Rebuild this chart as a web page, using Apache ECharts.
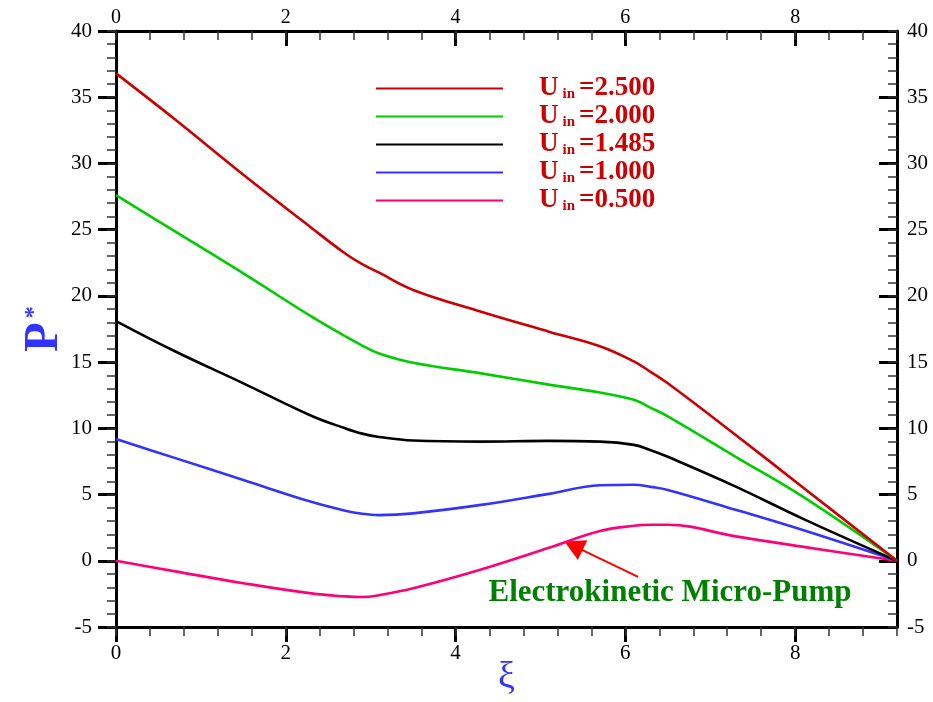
<!DOCTYPE html>
<html>
<head>
<meta charset="utf-8">
<script src="https://cdn.jsdelivr.net/npm/echarts@6/dist/echarts.min.js"></script>
<style>html,body{margin:0;padding:0;background:#fff;}#c{width:933px;height:702px;}</style>
</head>
<body>
<div id="c"></div>
<script>
// ---- data ----
var xi = [0, 0.7, 1.5, 2.3, 2.7, 2.9, 3.1, 3.5, 4.3, 5.1, 5.7, 6.1, 6.3, 6.5, 7.3, 8.1, 9.2];
var u2500 = [36.8, 33.3, 29.15, 25.15, 23.2, 22.4, 21.75, 20.45, 18.8, 17.3, 16.2, 15.05, 14.25, 13.4, 9.5, 5.5, 0];
var u2000 = [27.6, 24.85, 21.7, 18.45, 16.95, 16.25, 15.65, 14.95, 14.15, 13.3, 12.7, 12.15, 11.55, 10.9, 7.85, 4.8, 0];
var u1485 = [18.1, 15.8, 13.4, 10.95, 10.0, 9.6, 9.35, 9.08, 9.0, 9.05, 9.0, 8.75, 8.35, 7.85, 5.6, 3.15, 0];
var u1000 = [9.2, 7.75, 6.1, 4.45, 3.78, 3.55, 3.45, 3.58, 4.22, 5.05, 5.7, 5.74, 5.58, 5.35, 3.85, 2.3, 0];
var u0500 = [0, -0.8, -1.69, -2.46, -2.69, -2.74, -2.6, -2.08, -0.66, 0.98, 2.25, 2.64, 2.72, 2.72, 1.84, 1.05, 0];
var seriesNames = ['2.500', '2.000', '1.485', '1.000', '0.500'];
var xMajorTicks = [0, 2, 4, 6, 8];
var annotationText = 'Electrokinetic Micro-Pump';
var arrowFrom = [6.15, -1.21];
var arrowTo = [5.39, 1.13];
// ---------------------------------------

var colors = ['#cc0000', '#00cc00', '#000000', '#3333ff', '#ff0077'];
var allY = [u2500, u2000, u1485, u1000, u0500];
var FONT = '"Liberation Serif", "Times New Roman", serif';

function pairs(ys) { return xi.map(function (x, i) { return [x, ys[i]]; }); }

var X_MIN = 0, X_MAX = 9.2, Y_MIN = -5, Y_MAX = 40;

function xAxisMajor(pos, inside, labelMargin, fontSize, withName) {
  var a = {
    type: 'value', position: pos, min: X_MIN, max: X_MAX,
    axisLine: { show: true, onZero: false, lineStyle: { color: '#000', width: 3 } },
    axisTick: { show: true, inside: inside, length: 15, customValues: xMajorTicks, lineStyle: { color: '#000', width: 3 } },
    axisLabel: { show: true, customValues: xMajorTicks, margin: labelMargin, color: '#000', fontFamily: FONT, fontSize: fontSize },
    splitLine: { show: false }
  };
  if (withName) {
    a.name = 'ξ';
    a.nameLocation = 'middle';
    a.nameGap = 32;
    a.nameMoveOverlap = false;
    a.nameTextStyle = { color: '#3333ff', fontFamily: FONT, fontSize: 38 };
  }
  return a;
}
function xAxisMinor(pos, inside) {
  return {
    type: 'value', position: pos, min: X_MIN, max: X_MAX, interval: 0.4,
    axisLine: { show: false, onZero: false },
    axisTick: { show: true, inside: inside, length: 9, lineStyle: { color: '#333', width: 1.5 } },
    axisLabel: { show: false }, splitLine: { show: false }
  };
}
function yAxisMajor(pos, inside, labelMargin, withName) {
  var a = {
    type: 'value', position: pos, min: Y_MIN, max: Y_MAX, interval: 5,
    axisLine: { show: true, onZero: false, lineStyle: { color: '#000', width: 3 } },
    axisTick: { show: true, inside: inside, length: 18, lineStyle: { color: '#000', width: 3 } },
    axisLabel: { show: true, margin: labelMargin, color: '#000', fontFamily: FONT, fontSize: 21 },
    splitLine: { show: false }
  };
  if (withName) {
    a.name = '{p|P}{s|*}';
    a.nameLocation = 'middle';
    a.nameRotate = 90;
    a.nameGap = 47;
    a.nameMoveOverlap = false;
    a.nameTextStyle = {
      rich: {
        p: { color: '#3333ff', fontFamily: FONT, fontSize: 48, fontWeight: 'bold' },
        s: { color: '#3333ff', fontFamily: FONT, fontSize: 24, fontWeight: 'bold', padding: [0, 0, 22, 4] }
      }
    };
  }
  return a;
}
function yAxisMinor(pos, inside) {
  return {
    type: 'value', position: pos, min: Y_MIN, max: Y_MAX, interval: 1,
    axisLine: { show: false, onZero: false },
    axisTick: { show: true, inside: inside, length: 9, lineStyle: { color: '#333', width: 1.5 } },
    axisLabel: { show: false }, splitLine: { show: false }
  };
}

var series = seriesNames.map(function (n, i) {
  var s = {
    name: n, type: 'line', xAxisIndex: 0, yAxisIndex: 0,
    data: pairs(allY[i]), smooth: 0.4, showSymbol: false, symbol: 'none',
    lineStyle: { color: colors[i], width: 2.6 }, itemStyle: { color: colors[i] },
    z: 10 - i
  };
  if (i === 4) {
    s.markLine = {
      silent: true, animation: false,
      symbol: ['none', 'triangle'], symbolSize: [22, 20],
      label: { show: false },
      lineStyle: { color: '#ff0000', width: 2, type: 'solid' },
      itemStyle: { color: '#ff0000' },
      data: [[{ coord: arrowFrom }, { coord: arrowTo }]]
    };
  }
  return s;
});

var chart = echarts.init(document.getElementById('c'), null, { renderer: 'canvas' });
chart.setOption({
  animation: false,
  backgroundColor: '#ffffff',
  grid: { left: 116, right: 36, top: 31, bottom: 75, containLabel: false, outerBoundsMode: 'none' },
  xAxis: [
    xAxisMajor('bottom', false, 16, 21, true),
    xAxisMinor('bottom', false),
    xAxisMajor('top', true, 3, 20, false),
    xAxisMinor('top', true)
  ],
  yAxis: [
    yAxisMajor('left', false, 24, true),
    yAxisMinor('left', false),
    yAxisMajor('right', true, 10, false),
    yAxisMinor('right', true)
  ],
  legend: {
    show: true, orient: 'vertical', left: 370, top: 70,
    itemWidth: 127, itemHeight: 14, itemGap: 1,
    itemStyle: { opacity: 0 },
    data: seriesNames,
    formatter: function (name) { return '{u|U}{s|in}{e|=' + name + '}'; },
    textStyle: {
      rich: {
        u: { color: '#cc0000', fontFamily: FONT, fontSize: 27, fontWeight: 'bold', padding: [0, 0, 0, 31], lineHeight: 28 },
        s: { color: '#cc0000', fontFamily: FONT, fontSize: 15, fontWeight: 'bold', padding: [12, 4, 0, 4] },
        e: { color: '#cc0000', fontFamily: FONT, fontSize: 27, fontWeight: 'bold', lineHeight: 28 }
      }
    },
    selectedMode: false
  },
  graphic: [{
    type: 'text', x: 670, y: 593, silent: true,
    style: { text: annotationText, fill: '#008000', font: 'bold 31px "Liberation Serif", serif', textAlign: 'center', textVerticalAlign: 'middle' }
  }],
  series: series
});
</script>
</body>
</html>
